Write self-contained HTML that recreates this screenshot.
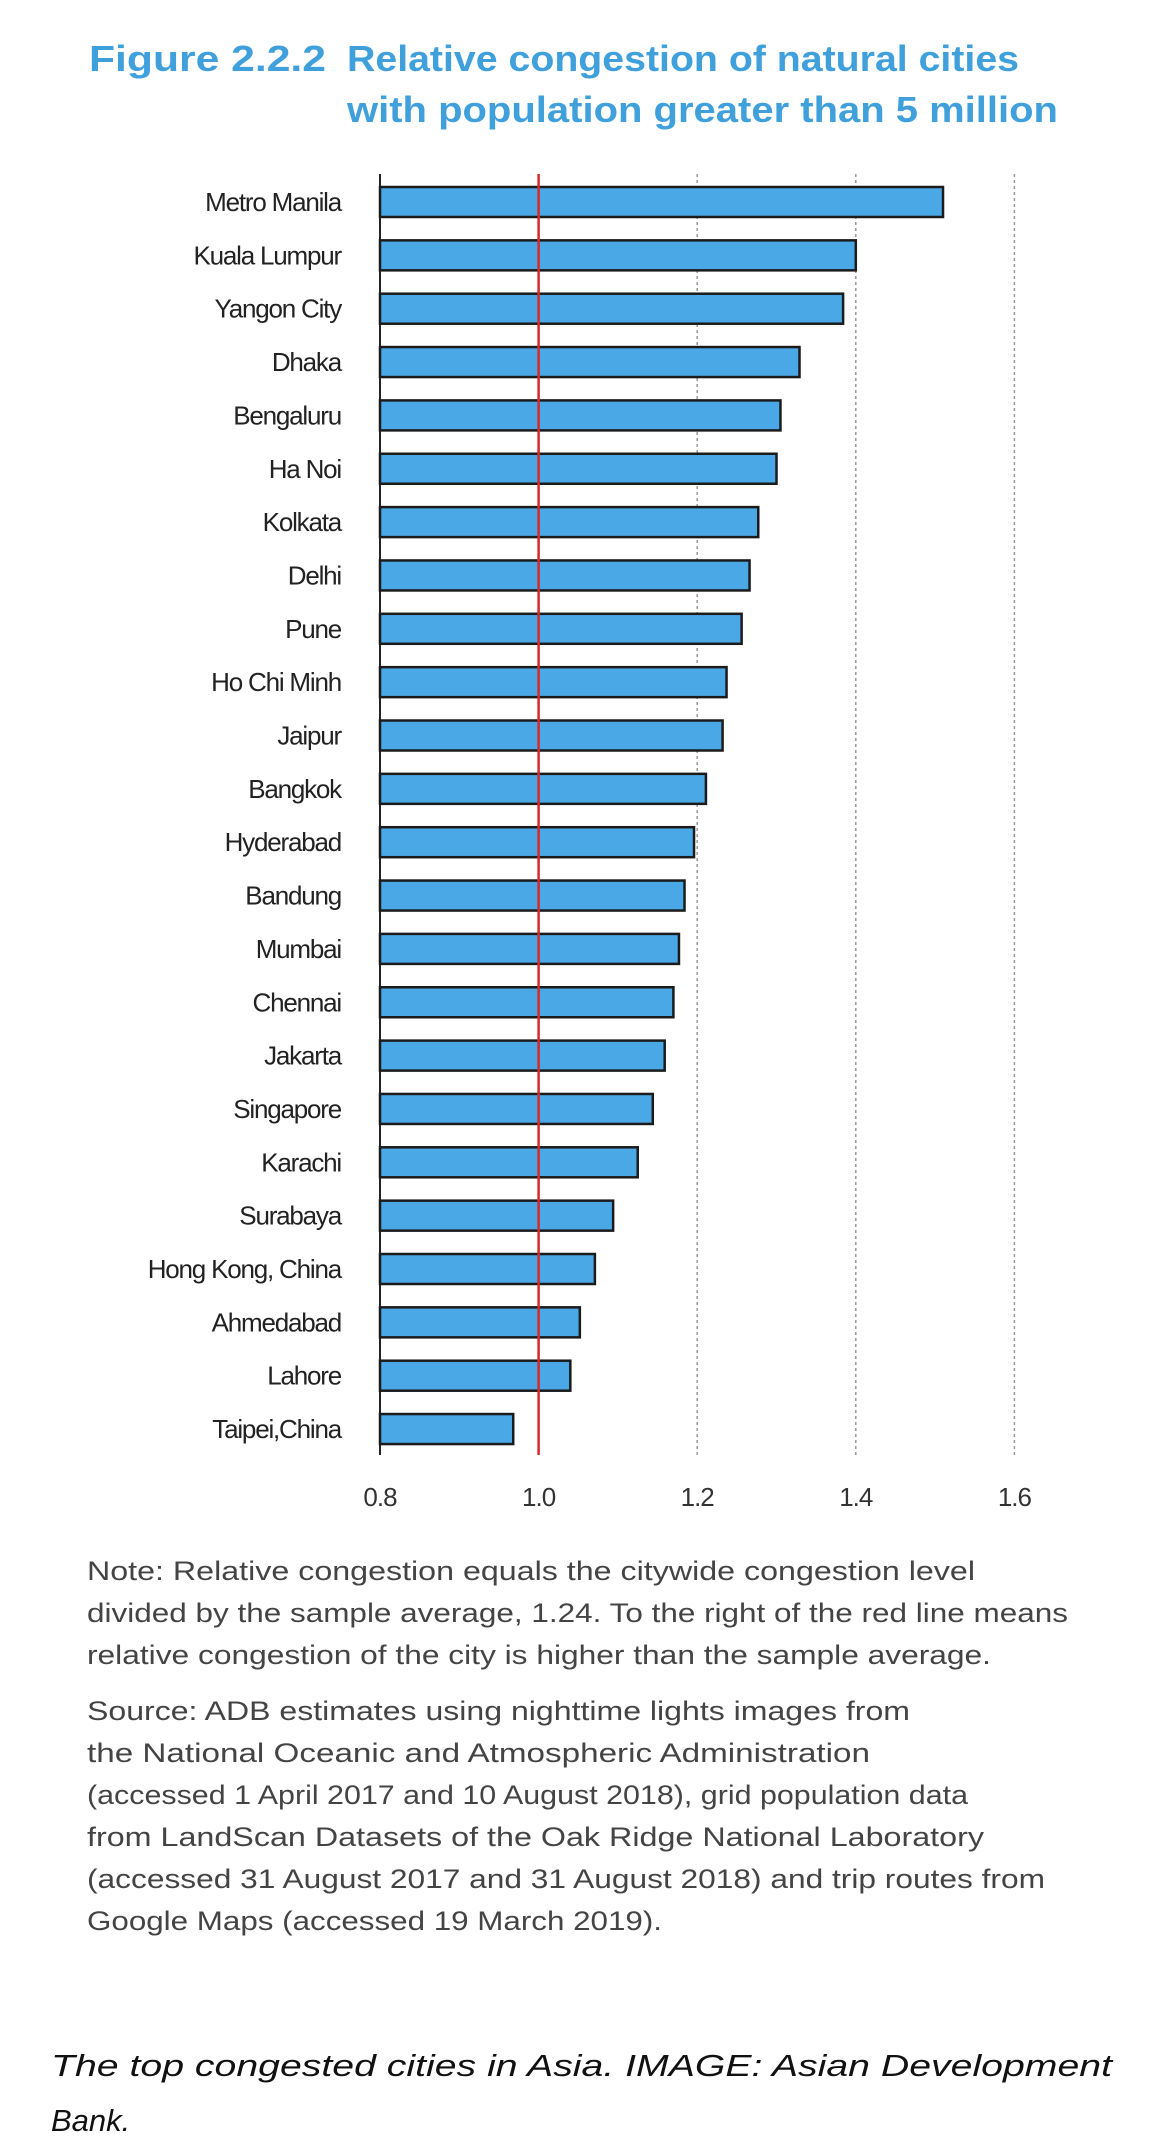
<!DOCTYPE html>
<html><head><meta charset="utf-8">
<style>
html,body{margin:0;padding:0;background:#fff;}
svg{display:block;}
text{font-family:"Liberation Sans",sans-serif;}
</style></head>
<body>
<svg id="chart" width="1170" height="2148" viewBox="0 0 1170 2148">
  <g fill="#3fa0dc" font-weight="bold" font-size="36">
    <text x="89" y="71" textLength="237" lengthAdjust="spacingAndGlyphs">Figure 2.2.2</text>
    <text x="347" y="71" textLength="672" lengthAdjust="spacingAndGlyphs">Relative congestion of natural cities</text>
    <text x="347" y="122" textLength="711" lengthAdjust="spacingAndGlyphs">with population greater than 5 million</text>
  </g>
  <g id="plot"></g>
  <g fill="#444" font-size="27">
    <text x="87" y="1580" textLength="888" lengthAdjust="spacingAndGlyphs">Note: Relative congestion equals the citywide congestion level</text>
    <text x="87" y="1622" textLength="981" lengthAdjust="spacingAndGlyphs">divided by the sample average, 1.24. To the right of the red line means</text>
    <text x="87" y="1664" textLength="904" lengthAdjust="spacingAndGlyphs">relative congestion of the city is higher than the sample average.</text>
  </g>
  <g fill="#444" font-size="27">
    <text x="87" y="1720" textLength="823" lengthAdjust="spacingAndGlyphs">Source: ADB estimates using nighttime lights images from</text>
    <text x="87" y="1762" textLength="783" lengthAdjust="spacingAndGlyphs">the National Oceanic and Atmospheric Administration</text>
    <text x="87" y="1804" textLength="881" lengthAdjust="spacingAndGlyphs">(accessed 1 April 2017 and 10 August 2018), grid population data</text>
    <text x="87" y="1846" textLength="897" lengthAdjust="spacingAndGlyphs">from LandScan Datasets of the Oak Ridge National Laboratory</text>
    <text x="87" y="1888" textLength="958" lengthAdjust="spacingAndGlyphs">(accessed 31 August 2017 and 31 August 2018) and trip routes from</text>
    <text x="87" y="1930" textLength="575" lengthAdjust="spacingAndGlyphs">Google Maps (accessed 19 March 2019).</text>
  </g>
  <g fill="#111" font-size="31" font-style="italic">
    <text x="51" y="2076" textLength="1061" lengthAdjust="spacingAndGlyphs">The top congested cities in Asia. IMAGE: Asian Development</text>
    <text x="51" y="2131">Bank.</text>
  </g>
</svg>
<script>
const cities = ["Metro Manila","Kuala Lumpur","Yangon City","Dhaka","Bengaluru","Ha Noi","Kolkata","Delhi","Pune","Ho Chi Minh","Jaipur","Bangkok","Hyderabad","Bandung","Mumbai","Chennai","Jakarta","Singapore","Karachi","Surabaya","Hong Kong, China","Ahmedabad","Lahore","Taipei,China"];
const values = [1.51,1.40,1.384,1.329,1.305,1.30,1.277,1.266,1.256,1.237,1.232,1.211,1.196,1.184,1.177,1.17,1.159,1.144,1.125,1.094,1.071,1.052,1.04,0.968];
const tickValues = [0.8,1.0,1.2,1.4,1.6];
const tickLabels = ["0.8","1.0","1.2","1.4","1.6"];
const referenceValue = 1.0;

const NS="http://www.w3.org/2000/svg";
const plotG=document.getElementById('plot');
const x0=380, pxPerUnit=793, xMin=0.8;
const xScale=v=>x0+(v-xMin)*pxPerUnit;
const plotTop=174, plotBottom=1455, firstCenter=202, pitch=53.35, barH=30;
const yScale=i=>firstCenter+i*pitch;
function mk(tag,attrs){const e=document.createElementNS(NS,tag);for(const k in attrs)e.setAttribute(k,attrs[k]);plotG.appendChild(e);return e;}

tickValues.forEach((t,i)=>{
  if(i>1){
    const l=mk('line',{x1:xScale(t),x2:xScale(t),y1:plotTop,y2:plotBottom,stroke:'#999','stroke-width':1.5,'stroke-dasharray':'3,3'});
    
    
  }
  const tx=mk('text',{x:xScale(t),y:1506,'text-anchor':'middle','font-size':26,fill:'#333','letter-spacing':'-1'});
  tx.textContent=tickLabels[i];
  
  
});
const ax=mk('line',{x1:x0,x2:x0,y1:plotTop,y2:plotBottom,stroke:'#222','stroke-width':2});



cities.forEach((c,i)=>{
  const cy=yScale(i);
  const r=mk('rect',{x:x0,y:cy-barH/2,width:xScale(values[i])-x0,height:barH,fill:'#4aa8e6',stroke:'#1b1b1b','stroke-width':2.5});
  
  
  const t=mk('text',{x:341,y:cy+9,'text-anchor':'end','font-size':26,fill:'#222','letter-spacing':'-1.2'});
  t.textContent=c;
  
  
});
const rl=mk('line',{x1:xScale(referenceValue),x2:xScale(referenceValue),y1:plotTop,y2:plotBottom,stroke:'#d62a2a','stroke-width':2.5});


</script>
</body></html>
